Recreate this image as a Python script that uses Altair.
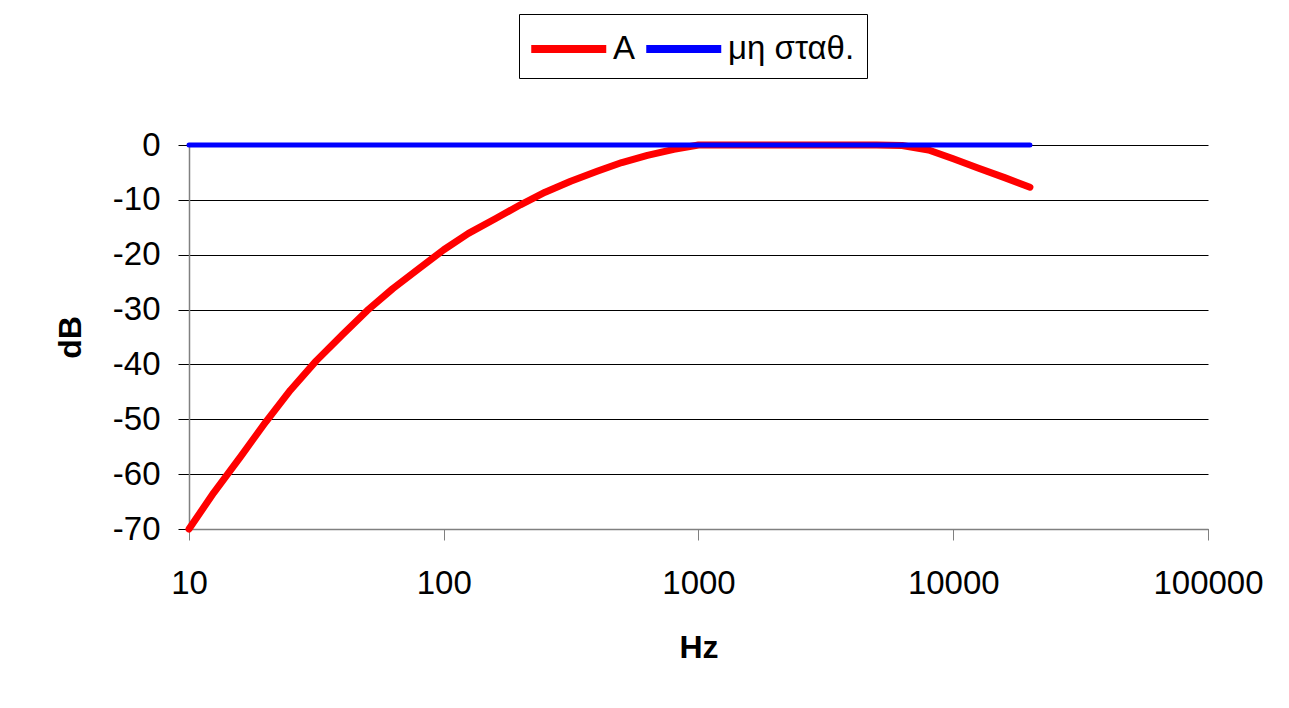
import altair as alt
import pandas as pd

freqs = [10, 12.5, 16, 20, 25, 31.5, 40, 50, 63, 80, 100, 125, 160, 200, 250,
         315, 400, 500, 630, 800, 1000, 1250, 1600, 2000, 2500, 3150, 4000,
         5000, 6300, 8000, 10000, 12500, 16000, 20000]
a_db = [-70.0, -63.4, -56.7, -50.5, -44.7, -39.4, -34.6, -30.2, -26.2, -22.5,
        -19.1, -16.1, -13.4, -10.9, -8.6, -6.6, -4.8, -3.2, -1.9, -0.8,
        0.0, 0.0, 0.0, 0.0, 0.0, 0.0, 0.0, 0.0, -0.1, -0.9, -2.5, -4.2, -6.0, -7.7]
flat_db = [0.0, 0.0, 0.0, 0.0, 0.0, 0.0, 0.0, 0.0, 0.0, 0.0, 0.0, 0.0, 0.0,
           0.0, 0.0, 0.0, 0.0, 0.0, 0.0, 0.0, 0.0, 0.0, 0.0, 0.0, 0.0, 0.0,
           0.0, 0.0, 0.0, 0.0, 0.0, 0.0, 0.0, 0.0]
series_names = ["A", "μη σταθ."]
series_colors = ["#FF0000", "#0000FF"]
x_ticks = [10, 100, 1000, 10000, 100000]
y_ticks = [-70, -60, -50, -40, -30, -20, -10, 0]

df = pd.concat([
    pd.DataFrame({"Hz": freqs, "dB": a_db, "series": series_names[0]}),
    pd.DataFrame({"Hz": freqs, "dB": flat_db, "series": series_names[1]}),
])

FONT = "Liberation Sans"

x_enc = alt.X("Hz:Q",
    scale=alt.Scale(type="log", domain=[10, 100000], nice=False),
    axis=alt.Axis(values=x_ticks, format="d", grid=False, title="Hz",
                  labelFontSize=33, labelFont=FONT, labelColor="black",
                  labelPadding=27, labelFlush=False, labelOverlap=False,
                  tickSize=11, tickColor="#808080", domainColor="#808080",
                  domainWidth=1.5,
                  titleFontSize=32, titleFont=FONT, titleFontWeight="bold",
                  titleColor="black", titleY=128, titleBaseline="alphabetic"))
y_enc = alt.Y("dB:Q",
    scale=alt.Scale(domain=[-70, 0], nice=False, zero=False),
    axis=alt.Axis(values=y_ticks, grid=True, gridColor="black", gridWidth=1,
                  labelExpr="replace(datum.label, '\u2212', '-')",
                  title="dB", labelFontSize=33, labelFont=FONT,
                  labelColor="black", labelPadding=18, tickSize=11,
                  tickColor="black", domainColor="#808080", domainWidth=1.5,
                  titleFontSize=32, titleFont=FONT, titleFontWeight="bold",
                  titleColor="black", titleX=-109, titleY=192,
                  titleBaseline="alphabetic", titleAlign="center"))
color_enc = alt.Color("series:N",
    scale=alt.Scale(domain=series_names, range=series_colors),
    legend=alt.Legend(title=None, orient="none", legendX=330, legendY=-131,
                      direction="horizontal", symbolType="M-1,0L3,0",
                      symbolSize=1406.25, symbolStrokeWidth=8,
                      symbolOffset=-4,
                      labelFontSize=33, labelFont=FONT, labelColor="black",
                      labelOffset=40, columnPadding=-6, padding=12,
                      strokeColor="black", fillColor="white",
                      labelLimit=400))

red = alt.Chart(df).transform_filter(alt.datum.series == series_names[0]).mark_line(
    strokeWidth=7, strokeCap="round", strokeJoin="round").encode(
    x=x_enc, y=y_enc, color=color_enc)
blue = alt.Chart(df).transform_filter(alt.datum.series == series_names[1]).mark_line(
    strokeWidth=5, strokeCap="round", strokeJoin="round").encode(
    x=x_enc, y=y_enc, color=color_enc)

chart = alt.layer(red, blue).properties(
    width=1019, height=384,
    autosize=alt.AutoSizeParams(type="none"),
    padding={"left": 181, "top": 137, "right": 70, "bottom": 160},
    background="white",
).configure_view(stroke=None)

chart.save("out.html", embed_options={"renderer": "svg", "actions": False})
